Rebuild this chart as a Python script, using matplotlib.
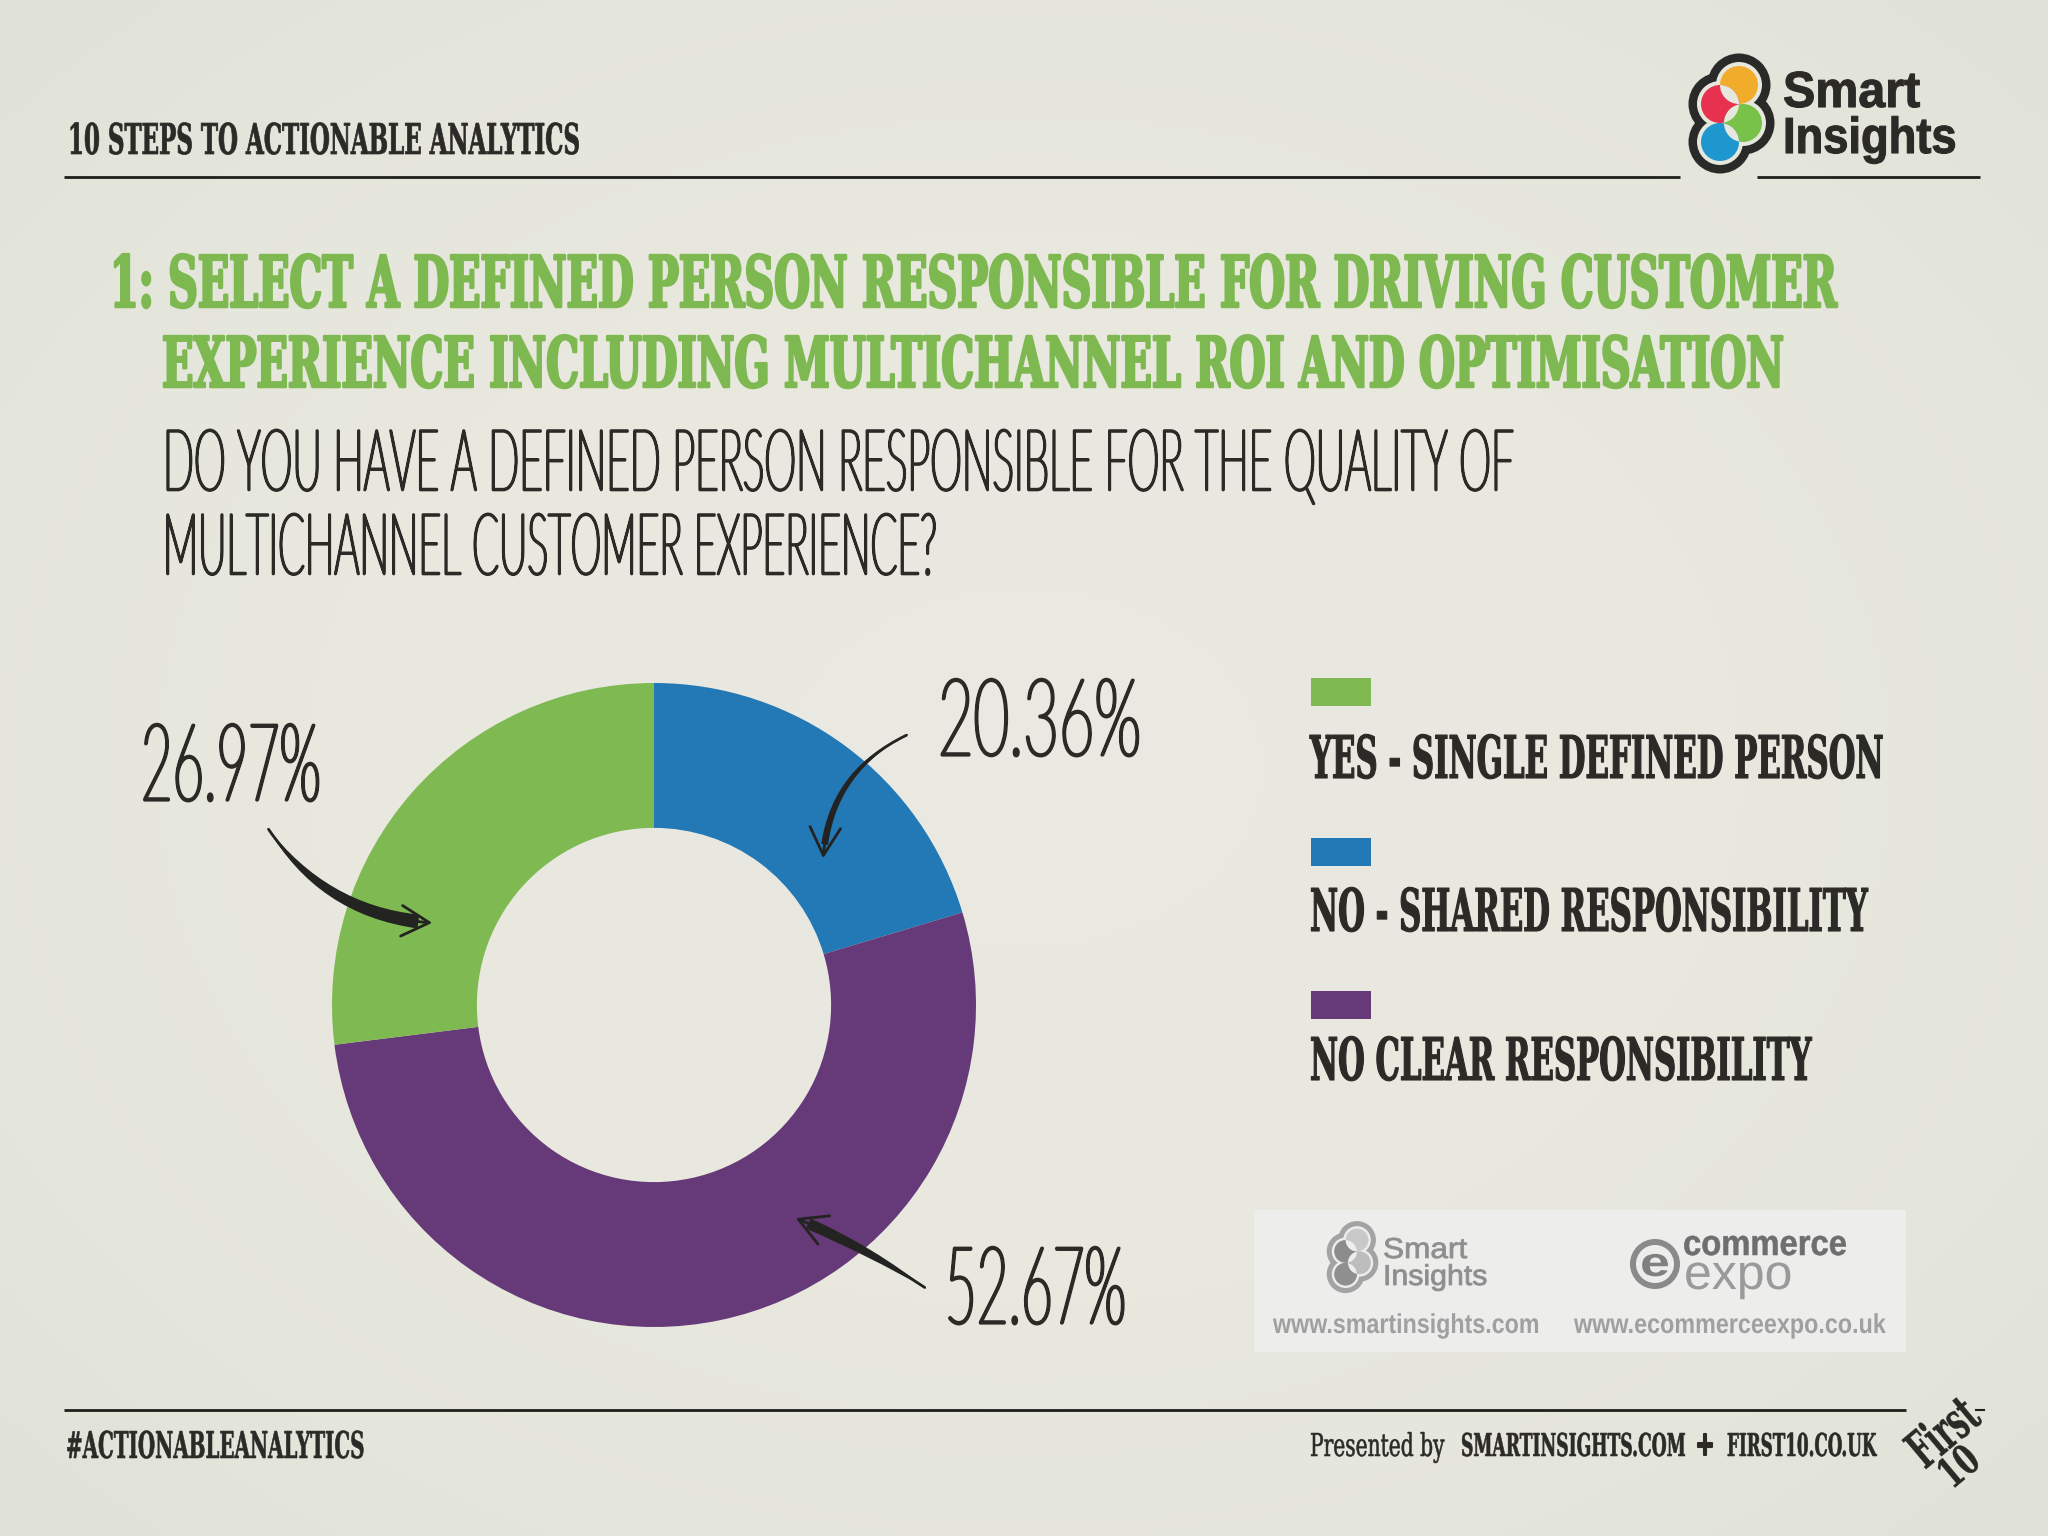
import numpy as np
import matplotlib
matplotlib.use("Agg")
import matplotlib.pyplot as plt
from matplotlib.colors import LinearSegmentedColormap
from matplotlib.patches import Circle, Rectangle, FancyArrowPatch
from matplotlib.patheffects import AbstractPathEffect
from matplotlib.transforms import Affine2D

# chart data
labels = ["NO - SHARED RESPONSIBILITY", "NO CLEAR RESPONSIBILITY", "YES - SINGLE DEFINED PERSON"]
values = [20.36, 52.67, 26.97]
colors = ["#2279B5", "#663A78", "#7FB952"]
legend_order = [2, 0, 1]

header = "10 STEPS TO ACTIONABLE ANALYTICS"
title_lines = ["1: SELECT A DEFINED PERSON RESPONSIBLE FOR DRIVING CUSTOMER",
               "EXPERIENCE INCLUDING MULTICHANNEL ROI AND OPTIMISATION"]
question_lines = ["DO YOU HAVE A DEFINED PERSON RESPONSIBLE FOR THE QUALITY OF",
                  "MULTICHANNEL CUSTOMER EXPERIENCE?"]

BG = "#E8E8DF"
INK = "#2B2A27"
GREEN = "#7DB950"
SLAB = "DejaVu Serif"
THIN = "Lato"


class Tall(AbstractPathEffect):
    # stretch glyphs upwards, no condensed slab font is installed
    def __init__(self, sy, lw=0):
        super().__init__()
        self.sy = sy
        self.lw = lw

    def draw_path(self, renderer, gc, tpath, affine, rgbFace=None):
        gc0 = renderer.new_gc()
        gc0.copy_properties(gc)
        if self.lw:
            gc0.set_linewidth(self.lw)
            gc0.set_foreground(rgbFace)
            gc0.set_joinstyle("round")
        renderer.draw_path(gc0, tpath, Affine2D().scale(1, self.sy) + affine, rgbFace)
        gc0.restore()


fig = plt.figure(figsize=(20.48, 15.36), dpi=100, facecolor=BG)

# paper background, a bit greener towards the edges
bg = fig.add_axes([0, 0, 1, 1])
bg.axis("off")
yy, xx = np.mgrid[-1:1:200j, -1:1:200j]
bg.imshow(np.sqrt(xx ** 2 + yy ** 2), cmap=LinearSegmentedColormap.from_list(
    "paper", ["#EAE9E2", "#E8E8DF", "#E1E3D8"]), vmin=0, vmax=1.41, aspect="auto", interpolation="bilinear")

# donut
cx, cy, r = 654, 1005, 322
pie_ax = fig.add_axes([(cx - r) / 2048, (1536 - cy - r) / 1536, 2 * r / 2048, 2 * r / 1536])
pie_ax.pie(values, colors=colors, startangle=90, counterclock=False,
           wedgeprops=dict(width=0.45, linewidth=0))
pie_ax.set_xlim(-1, 1)
pie_ax.set_ylim(-1, 1)

# everything else is placed in reference pixels
ax = fig.add_axes([0, 0, 1, 1])
ax.set_xlim(0, 2048)
ax.set_ylim(1536, 0)
ax.axis("off")
ax.patch.set_alpha(0)
renderer = fig.canvas.get_renderer()


def put(x, base, s, cap, width, family=SLAB, weight="bold", color=INK, rotation=0, lw=0, z=5):
    # font size gives the width in pixels, the path effect then gives the cap height
    t = ax.text(x, base, s, fontsize=20, family=family, weight=weight, color=color,
                ha="left", va="baseline", rotation=0, rotation_mode="anchor", zorder=z)
    size = 20 * width / t.get_window_extent(renderer).width
    t.set_fontsize(size)
    t.set_rotation(rotation)
    t.set_path_effects([Tall(cap / (0.73 * size * 100 / 72), lw)])
    return t


def logo(x0, y0, s, cols, ring, paper):
    # x0,y0 = centre of the orange circle, s = scale
    offs = [(0, 0), (-19, 19), (4, 38), (-19, 57)]
    for dx, dy in offs:
        ax.add_patch(Circle((x0 + dx * s, y0 + dy * s), 31.5 * s, fc=ring, ec="none", zorder=6))
    for dx, dy in offs:
        ax.add_patch(Circle((x0 + dx * s, y0 + dy * s), 23 * s, fc=paper, ec="none", zorder=7))
    discs = []
    for (dx, dy), c in zip(offs, cols):
        d = Circle((x0 + dx * s, y0 + dy * s), 19 * s, fc=c, ec="none", zorder=8)
        ax.add_patch(d)
        discs.append(d)
    for i in range(3):
        lens = Circle(discs[i].center, 19 * s, fc=paper, ec="none", zorder=9)
        ax.add_patch(lens)
        lens.set_clip_path(discs[i + 1])


# header
put(68, 154, header, 31, 511, lw=0.5)
ax.plot([64, 1680], [177, 177], color="#1E1E1C", lw=2, solid_capstyle="butt")
ax.plot([1757, 1980], [177, 177], color="#1E1E1C", lw=2, solid_capstyle="butt")
logo(1739, 85, 1, ["#F2AC2B", "#E8304F", "#79C24A", "#1E96CE"], "#2A2A28", "#E6E8DE")
put(1783, 107, "Smart", 37, 137, family="Liberation Sans", lw=0.8)
put(1783, 153, "Insights", 37, 173, family="Liberation Sans", lw=0.8)

# title and question
put(110, 307, title_lines[0], 52, 1722, color=GREEN, lw=1.8)
put(162, 387, title_lines[1], 51, 1618, color=GREEN, lw=1.8)
put(163, 490, question_lines[0], 62, 1350, family=THIN, weight="light", lw=1.9)
put(163, 574, question_lines[1], 62, 774, family=THIN, weight="light", lw=1.9)

# percent labels, next to their wedges
pct_pos = [(938, 755, 203), (945, 1323, 181), (141, 800, 180)]
for v, (x, y, w) in zip(values, pct_pos):
    put(x, y, "%.2f%%" % v, 78, w, family=THIN, weight="light", lw=2.3)

# hand drawn arrows: a thin line with open head, plus a brush wedge near the head
arrow_from = [(909, 734), (927, 1289), (267, 827)]
arrow_to = [(823, 861), (793, 1217), (435, 923)]
arrow_rad = [0.3, 0.05, 0.25]
arrow_brush = [5, 8, 10]
for a, b, rad, brush in zip(arrow_from, arrow_to, arrow_rad, arrow_brush):
    ax.add_patch(FancyArrowPatch(a, b, arrowstyle="->,head_length=20,head_width=11",
                                 connectionstyle="arc3,rad=%g" % rad, color="#232321", lw=2, zorder=5))
    ax.add_patch(FancyArrowPatch(b, a, arrowstyle="wedge,tail_width=%g,shrink_factor=0.7" % brush,
                                 mutation_scale=1, shrinkA=12, shrinkB=0,
                                 connectionstyle="arc3,rad=%g" % -rad, color="#232321", lw=0, zorder=5))

# legend
sw_y = [678, 838, 991]
txt_base = [778, 931, 1080]
txt_w = [572, 556, 500]
for i, sy, base, w in zip(legend_order, sw_y, txt_base, txt_w):
    ax.add_patch(Rectangle((1311, sy), 60, 28, fc=colors[i], ec="none", zorder=4))
    put(1310, base, labels[i], 43, w, lw=0.8)

# sponsors panel
ax.add_patch(Rectangle((1254, 1210), 652, 142, fc="#EDEDEC", ec="none", zorder=3))
logo(1357, 1240, 0.6, ["#C9C9C9", "#8C8C8C", "#BDBDBD", "#8F8F8F"], "#A3A3A3", "#EDEDEC")
put(1383, 1258, "Smart", 21, 84, family="Liberation Sans", weight="normal", color="#8E8E8E", lw=0.6)
put(1383, 1285, "Insights", 21, 104, family="Liberation Sans", weight="normal", color="#8E8E8E", lw=0.6)
ax.add_patch(Circle((1655, 1264), 25, fc="#8A8A8A", ec="none", zorder=6))
ax.add_patch(Circle((1655, 1264), 19, fc="#EDEDEC", ec="none", zorder=7))
put(1640, 1276, "e", 30, 30, family="Liberation Sans", color="#808080", z=8)
put(1683, 1255, "commerce", 26, 164, family="Liberation Sans", color="#6E6E6E", lw=0.4)
put(1684, 1289, "expo", 36, 108, family="Liberation Sans", weight="normal", color="#9A9A9A")
put(1273, 1333, "www.smartinsights.com", 20, 266, family="Liberation Sans", color="#A0A0A0")
put(1574, 1333, "www.ecommerceexpo.co.uk", 20, 312, family="Liberation Sans", color="#A0A0A0")

# footer
ax.plot([64, 1906], [1410, 1410], color="#1E1E1C", lw=2, solid_capstyle="butt")
put(66, 1458, "#ACTIONABLEANALYTICS", 27, 298, lw=0.4)
put(1310, 1456, "Presented by", 23, 134, weight="normal", lw=0.4)
put(1461, 1456, "SMARTINSIGHTS.COM", 23, 224, lw=0.4)
put(1695, 1455, "+", 24, 20, lw=1.5)
put(1727, 1456, "FIRST10.CO.UK", 23, 149, lw=0.4)
put(1925, 1470, "First", 38, 76, rotation=40, lw=0.3)
put(1952, 1490, "10", 30, 40, rotation=40, lw=0.3)
ax.plot([1976, 1984], [1410, 1410], color="#1E1E1C", lw=1.5)

fig.savefig("out.png", dpi=100)
